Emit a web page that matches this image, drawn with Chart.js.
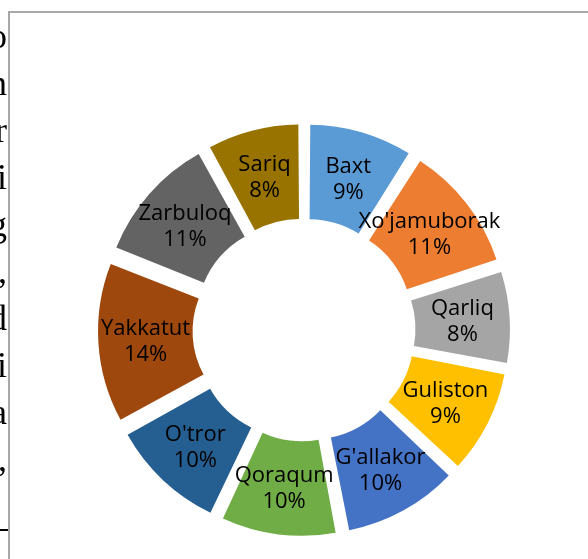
<!DOCTYPE html>
<html>
<head>
<meta charset="utf-8">
<script src="https://cdn.jsdelivr.net/npm/chart.js@4"></script>
<style>
html,body{margin:0;padding:0;width:588px;height:559px;overflow:hidden;background:#fff}
body{position:relative}
#frame{position:absolute;left:8px;top:11px;width:700px;height:700px;border-left:2px solid #a8a8a8;border-top:2px solid #a8a8a8;box-sizing:border-box}
#chart{position:absolute;left:0;top:0}
#text{position:absolute;left:0;top:0;width:20px;height:559px;will-change:transform;-webkit-font-smoothing:antialiased}
.ln{position:absolute;left:-60px;width:67px;text-align:right;font-family:"Liberation Serif","Times New Roman",serif;font-size:36px;line-height:47px;color:#000;white-space:nowrap}
#rule{position:absolute;left:0;top:529px;width:8px;height:2px;background:#000}
</style>
</head>
<body>
<div id="frame"></div>
<div id="rule"></div>
<div id="text"></div>
<canvas id="chart" width="588" height="559"></canvas>
<script>
const categories = ["Baxt", "Xo'jamuborak", "Qarliq", "Guliston", "G'allakor", "Qoraqum", "O'tror", "Yakkatut", "Zarbuloq", "Sariq"];
const values = [9, 11, 8, 9, 10, 10, 10, 14, 11, 8];
const sliceColors = ["#5B9BD5", "#ED7D31", "#A5A5A5", "#FFC000", "#4472C4", "#70AD47", "#255E91", "#9E480E", "#636363", "#997300"];
const leftTextLines = ["o", "n", "r", "i", "g", ",", "d", "i", "a", ","];

const total = values.reduce((a, b) => a + b, 0);
const percentLabels = values.map(v => Math.round(v / total * 100) + "%");

const textBox = document.getElementById("text");
leftTextLines.forEach((t, i) => {
  const d = document.createElement("div");
  d.className = "ln";
  d.style.top = (13 + i * 47) + "px";
  d.textContent = t;
  textBox.appendChild(d);
});

// Exploded-slice geometry: Chart.js translates an arc by offset/4 and also grows its
// radius by (offset/4)*(1-sin(angle)); choose per-slice offsets so every slice is
// pushed out by the same total radial amount (like an exploded Excel doughnut).
const EXPLODE = 26;
const OUTER_R = 180;
const INNER_R = 85.5;
const explodeOffsets = values.map(v => {
  const circ = Math.PI * 2 * v / total;
  const fix = 1 - Math.sin(Math.min(Math.PI, circ));
  return 4 * EXPLODE / (1 + fix);
});

const labelPlugin = {
  id: "sliceLabels",
  afterDatasetsDraw(chart) {
    const ctx = chart.ctx;
    const meta = chart.getDatasetMeta(0);
    meta.data.forEach((arc, i) => {
      const p = arc.getProps(["x", "y", "startAngle", "endAngle", "innerRadius", "outerRadius"], true);
      const a = (p.startAngle + p.endAngle) / 2;
      const r = (p.innerRadius + p.outerRadius) / 2 + EXPLODE;
      const x = p.x + Math.cos(a) * r;
      const y = p.y + Math.sin(a) * r;
      ctx.save();
      ctx.fillStyle = "#000";
      ctx.font = "22px 'Open Sans'";
      ctx.textAlign = "center";
      ctx.textBaseline = "alphabetic";
      ctx.fillText(categories[i], x, y - 5);
      ctx.fillText(percentLabels[i], x, y + 21);
      ctx.restore();
    });
  }
};

new Chart(document.getElementById("chart"), {
  type: "doughnut",
  data: {
    labels: categories,
    datasets: [{
      data: values,
      backgroundColor: sliceColors,
      borderWidth: 0,
      offset: explodeOffsets,
      hoverOffset: 0
    }]
  },
  options: {
    responsive: false,
    animation: false,
    devicePixelRatio: 1,
    radius: OUTER_R,
    cutout: (INNER_R / OUTER_R * 100) + "%",
    layout: { padding: { left: 20, top: 101, right: 0, bottom: 0 } },
    plugins: { legend: { display: false }, tooltip: { enabled: false } },
    events: []
  },
  plugins: [labelPlugin]
});
</script>
</body>
</html>
